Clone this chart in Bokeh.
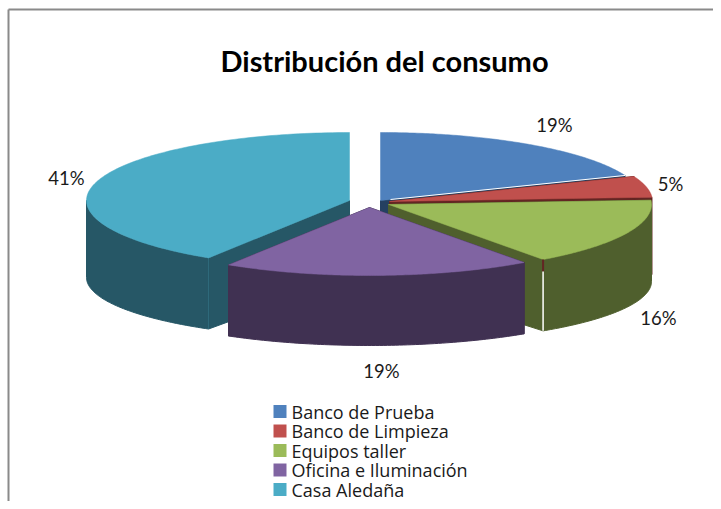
import numpy as np
from bokeh.plotting import figure
from bokeh.models import Range1d
from bokeh.core.properties import value
from bokeh.embed import file_html
from bokeh.resources import INLINE

TITLE = "Distribución del consumo"
categories = ["Banco de Prueba", "Banco de Limpieza", "Equipos taller", "Oficina e Iluminación", "Casa Aledaña"]
shares = [19, 5, 16, 19, 41]
top_colors = ["#4F81BD", "#C0504D", "#9BBB59", "#8064A2", "#4BACC6"]
side_colors = ["#254061", "#632523", "#4F5F2D", "#403152", "#265766"]

# exploded-slice apex of each slice, in picture pixels
apex_x = [380, 389, 388, 369, 349]
apex_y = [200, 201, 204, 207, 200]
label_x = [554, 670, 658, 381, 66]
label_y = [124, 183, 317, 370, 177]

RX, RY, DROP, RY_LOW = 263, 68, 77, 61
FONT = "Lato"
LEGEND_TOP, LEGEND_STEP, LEGEND_SWATCH_X, LEGEND_TEXT_X = 411, 19.5, 279.5, 291

p = figure(width=713, height=501, output_backend="svg", toolbar_location=None,
           x_range=Range1d(0, 713), y_range=Range1d(501, 0), min_border=0,
           outline_line_color=None, background_fill_color="white")
p.xaxis.visible = False
p.yaxis.visible = False
p.grid.visible = False

p.multi_line([[8, 8], [8, 713]], [[501, 9], [9, 9]], line_color="#8A8A8A", line_width=2)

edges = np.radians(np.cumsum([0] + shares) / sum(shares) * 360)


def top(cx, cy, t):
    return cx + RX * np.sin(t), cy - RY * np.cos(t)


def low(cx, cy, t):
    return cx + RX * np.sin(t), cy + DROP - RY_LOW * np.cos(t)


for i in [0, 1, 4, 2, 3]:
    cx, cy = apex_x[i], apex_y[i]
    t0, t1 = edges[i], edges[i + 1]
    col = side_colors[i]
    for t in (t0, t1):
        if t > np.pi * 0.2 and t < np.pi * 1.3:
            ex, ey = top(cx, cy, t)
            lx, ly = low(cx, cy, t)
            p.patch([cx, ex, lx, cx], [cy, ey, ly, cy + DROP], fill_color=col, line_color=col)
    a, b = max(t0, np.pi / 2), min(t1, np.pi * 1.5)
    if b > a:
        tt = np.linspace(a, b, 80)
        ux, uy = top(cx, cy, tt)
        dx, dy = low(cx, cy, tt)
        p.patch(np.r_[ux, dx[::-1]], np.r_[uy, dy[::-1]], fill_color=col, line_color=col)
    if i == 4:
        ex, ey = top(cx, cy, t0)
        lx, ly = low(cx, cy, t0)
        p.line([ex, lx], [ey, ly], line_color="#2F6B7C", line_width=1)
    tt = np.linspace(t0, t1, 120)
    ux, uy = top(cx, cy, tt)
    p.patch(np.r_[cx, ux], np.r_[cy, uy], fill_color=top_colors[i], line_color=top_colors[i], line_width=0.5)

ex, ey = top(apex_x[2], apex_y[2], edges[3])
lx, ly = low(apex_x[2], apex_y[2], edges[3])
p.line([ex, ex], [ey, ey + 12], line_color=side_colors[1], line_width=2)
p.line([ex, ex], [ey + 12, ly], line_color="white", line_width=1.5)
bx, by = top(apex_x[0], apex_y[0], edges[1])
p.line([apex_x[0] + 10, bx], [apex_y[0] - 1, by], line_color="white", line_width=1)

p.text(label_x, label_y, text=[f"{s}%" for s in shares], text_font=value(FONT), text_font_size="18.5px",
       text_align="center", text_baseline="middle", text_color="#1a1a1a")
p.text([384], [60], text=[TITLE], text_font=value(FONT), text_font_size="29px", text_font_style="bold",
       text_align="center", text_baseline="middle", text_color="black")

legend_y = [LEGEND_TOP + LEGEND_STEP * k for k in range(len(categories))]
p.scatter([LEGEND_SWATCH_X] * len(categories), legend_y, marker="square", size=13,
          fill_color=top_colors, line_color=None)
p.text([LEGEND_TEXT_X] * len(categories), legend_y, text=categories, text_font=value("Open Sans"),
       text_font_size="18px", text_align="left", text_baseline="middle", text_color="#1a1a1a")

open("out.html", "w").write(file_html(p, INLINE))
